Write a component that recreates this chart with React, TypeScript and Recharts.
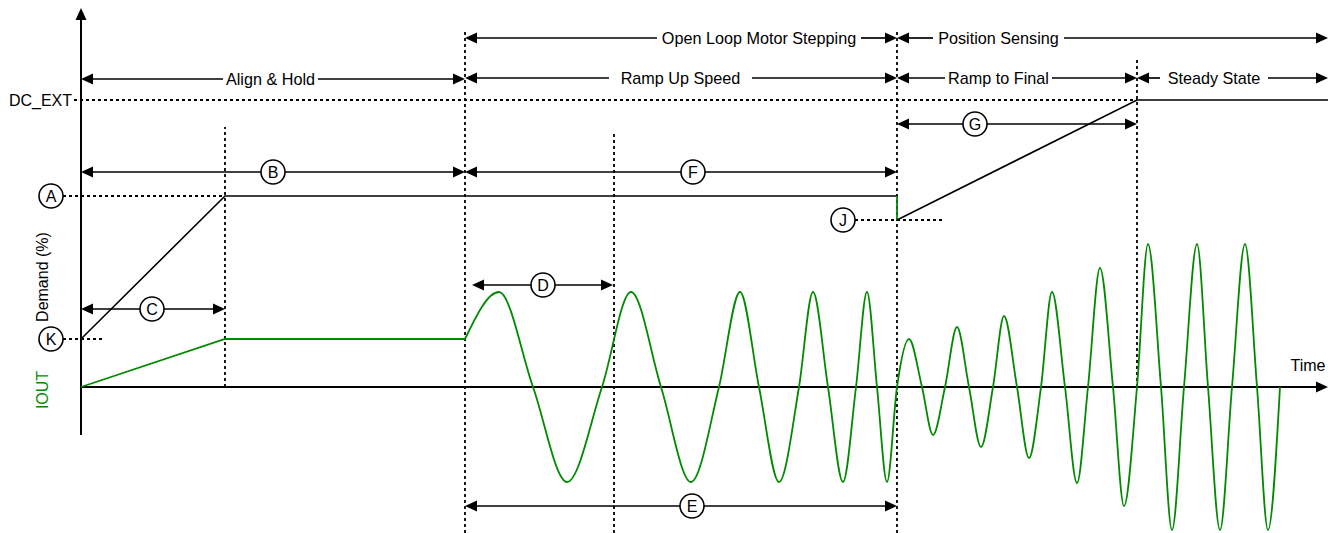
import { ComposedChart, Line, XAxis, YAxis, ReferenceLine, ReferenceDot } from "recharts";

const FONT = "Arial, 'Liberation Sans', Helvetica, sans-serif";
const GREEN = "#008a00";

// time axis runs 0..1247, level axis: 0 = IOUT zero / time axis
const demandAlign = [
  { t: 0, v: 48 },
  { t: 144, v: 191 },
  { t: 816, v: 191 },
];
const demandDrop = [
  { t: 816, v: 191 },
  { t: 816, v: 167 },
];
const demandFinal = [
  { t: 816, v: 167 },
  { t: 1056, v: 287 },
  { t: 1247, v: 287 },
];

const ioutAlign = [
  { t: 0, v: 0 },
  { t: 144, v: 48 },
  { t: 384, v: 48 },
];

// peaks, troughs and zero crossings
const ioutWave = [
  { t: 384, v: 48 }, { t: 418, v: 95 }, { t: 452, v: 0 }, { t: 486, v: -95 },
  { t: 521, v: 0 }, { t: 550, v: 95 }, { t: 580, v: 0 }, { t: 610, v: -95 },
  { t: 638, v: 0 }, { t: 659, v: 95 }, { t: 678, v: 0 }, { t: 698, v: -95 },
  { t: 718, v: 0 }, { t: 732, v: 95 }, { t: 747, v: 0 }, { t: 762, v: -95 },
  { t: 775, v: 0 }, { t: 786, v: 95 }, { t: 796, v: 0 }, { t: 806, v: -95 },
  { t: 816, v: 0 }, { t: 828, v: 48 }, { t: 841, v: 0 }, { t: 852, v: -48 },
  { t: 864, v: 0 }, { t: 876, v: 60 }, { t: 888, v: 0 }, { t: 900, v: -60 },
  { t: 912, v: 0 }, { t: 923, v: 71 }, { t: 936, v: 0 }, { t: 948, v: -71 },
  { t: 960, v: 0 }, { t: 971, v: 95 }, { t: 984, v: 0 }, { t: 996, v: -96 },
  { t: 1007, v: 0 }, { t: 1019, v: 119 }, { t: 1032, v: 0 }, { t: 1043, v: -119 },
  { t: 1056, v: 0 }, { t: 1067, v: 143 }, { t: 1080, v: 0 }, { t: 1091, v: -143 },
  { t: 1103, v: 0 }, { t: 1116, v: 143 }, { t: 1127, v: 0 }, { t: 1139, v: -143 },
  { t: 1151, v: 0 }, { t: 1164, v: 143 }, { t: 1176, v: 0 }, { t: 1187, v: -143 },
  { t: 1199, v: 0 },
];

type Span = { label: string; from: number; to: number; v: number; gap?: number[]; at?: number };

const phaseSpans: Span[] = [
  { label: "Align & Hold", from: 0, to: 384, v: 308, gap: [142, 237] },
  { label: "Ramp Up Speed", from: 384, to: 816, v: 309, gap: [528, 671] },
  { label: "Open Loop Motor Stepping", from: 384, to: 816, v: 349, gap: [576, 780] },
  { label: "Position Sensing", from: 816, to: 1247, v: 349, gap: [852, 983] },
  { label: "Ramp to Final", from: 816, to: 1056, v: 309, gap: [864, 971] },
  { label: "Steady State", from: 1056, to: 1247, v: 309, gap: [1079, 1187] },
];

const markerSpans: Span[] = [
  { label: "B", from: 0, to: 384, v: 215, at: 192 },
  { label: "F", from: 384, to: 816, v: 215, at: 612 },
  { label: "G", from: 816, to: 1056, v: 263, at: 894 },
  { label: "C", from: 0, to: 144, v: 78, at: 71 },
  { label: "D", from: 391, to: 532, v: 102, at: 462 },
  { label: "E", from: 384, to: 816, v: -119, at: 611 },
];

const markerDots = [
  { label: "A", t: -30, v: 191 },
  { label: "K", t: -30, v: 48 },
  { label: "J", t: 762, v: 167 },
];

const guides = [
  { t1: -7, v1: 287, t2: 1056, v2: 287 },
  { t1: -18, v1: 191, t2: 144, v2: 191 },
  { t1: -18, v1: 48, t2: 24, v2: 48 },
  { t1: 774, v1: 167, t2: 862, v2: 167 },
  { t1: 144, v1: 0, t2: 144, v2: 260 },
  { t1: 384, v1: -146, t2: 384, v2: 358 },
  { t1: 533, v1: -146, t2: 533, v2: 254 },
  { t1: 816, v1: -146, t2: 816, v2: 358 },
  { t1: 1056, v1: 0, t2: 1056, v2: 329 },
];

const HL = 12;
const HW = 5.5;

const head = (x: number, y: number, dir: number, key: string) => (
  <polygon key={key} points={`${x},${y} ${x - dir * HL},${y - HW} ${x - dir * HL},${y + HW}`} fill="#000" />
);

const circleLabel = (cx: number, cy: number, label: string) => (
  <g>
    <circle cx={cx} cy={cy} r={12} fill="#fff" stroke="#000" strokeWidth={1.6} />
    <text x={cx} y={cy + 5.7} textAnchor="middle" fontFamily={FONT} fontSize={16} fill="#000">
      {label}
    </text>
  </g>
);

const spanShape = (s: Span) => (p: any) => {
  const { x1, x2, y1 } = p;
  const sx = (t: number) => x1 + ((t - s.from) / (s.to - s.from)) * (x2 - x1);
  const parts = s.gap ? [[x1 + 4, sx(s.gap[0])], [sx(s.gap[1]), x2 - 4]] : [[x1 + 4, x2 - 4]];
  return (
    <g>
      {parts.map(([a, b], i) => (
        <line key={i} x1={a} x2={b} y1={y1} y2={y1} stroke="#000" strokeWidth={1.7} />
      ))}
      {head(x1, y1, -1, "l")}
      {head(x2, y1, 1, "r")}
      {s.gap && (
        <text x={sx((s.gap[0] + s.gap[1]) / 2)} y={y1 + 5.7} textAnchor="middle" fontFamily={FONT} fontSize={16.2} fill="#000">
          {s.label}
        </text>
      )}
      {s.at !== undefined && circleLabel(sx(s.at), y1, s.label)}
    </g>
  );
};

const timeAxisShape = (p: any) => (
  <g>
    <line x1={p.x1} y1={p.y1} x2={p.x2 - 6} y2={p.y2} stroke="#000" strokeWidth={2} />
    {head(p.x2, p.y2, 1, "h")}
  </g>
);

const demandAxisShape = (p: any) => (
  <g>
    <line x1={p.x1} y1={p.y1} x2={p.x2} y2={p.y2 + 6} stroke="#000" strokeWidth={2} />
    <polygon points={`${p.x2},${p.y2} ${p.x2 - HW},${p.y2 + HL} ${p.x2 + HW},${p.y2 + HL}`} fill="#000" />
  </g>
);

const textDot = (label: string, opts: { anchor?: string; rotate?: boolean; color?: string }) => (p: any) => {
  const { cx, cy } = p;
  return (
    <text
      x={cx}
      y={cy + 5.7}
      textAnchor={opts.anchor || "middle"}
      transform={opts.rotate ? `rotate(-90 ${cx} ${cy})` : undefined}
      fontFamily={FONT}
      fontSize={16}
      fill={opts.color || "#000"}
    >
      {label}
    </text>
  );
};

export default function App() {
  return (
    <div style={{ position: "absolute", left: 0, top: 0, width: 1330, height: 533, background: "#fff" }}>
      <ComposedChart width={1330} height={533} margin={{ top: 0, right: 0, bottom: 0, left: 0 }}>
        <XAxis type="number" dataKey="t" domain={[-81, 1249]} hide allowDataOverflow />
        <YAxis type="number" dataKey="v" domain={[-146, 387]} hide allowDataOverflow />

        {guides.map((g, i) => (
          <ReferenceLine
            key={`g${i}`}
            segment={[{ x: g.t1, y: g.v1 }, { x: g.t2, y: g.v2 }]}
            stroke="#000"
            strokeWidth={1.8}
            strokeDasharray="3 3"
            ifOverflow="visible"
          />
        ))}

        <ReferenceLine segment={[{ x: 0, y: 0 }, { x: 1247, y: 0 }]} shape={timeAxisShape} ifOverflow="visible" />
        <ReferenceLine segment={[{ x: 0, y: -48 }, { x: 0, y: 379 }]} shape={demandAxisShape} ifOverflow="visible" />

        <Line data={ioutAlign} dataKey="v" type="linear" stroke={GREEN} strokeWidth={1.8} dot={false} activeDot={false} isAnimationActive={false} />
        <Line data={ioutWave} dataKey="v" type="monotone" stroke={GREEN} strokeWidth={1.8} dot={false} activeDot={false} isAnimationActive={false} />
        <Line data={demandAlign} dataKey="v" type="linear" stroke="#000" strokeWidth={1.6} dot={false} activeDot={false} isAnimationActive={false} />
        <Line data={demandDrop} dataKey="v" type="linear" stroke={GREEN} strokeWidth={1.8} dot={false} activeDot={false} isAnimationActive={false} />
        <Line data={demandFinal} dataKey="v" type="linear" stroke="#000" strokeWidth={1.6} dot={false} activeDot={false} isAnimationActive={false} />

        {[...phaseSpans, ...markerSpans].map((s, i) => (
          <ReferenceLine
            key={`s${i}`}
            segment={[{ x: s.from, y: s.v }, { x: s.to, y: s.v }]}
            shape={spanShape(s)}
            ifOverflow="visible"
          />
        ))}

        {markerDots.map((m) => (
          <ReferenceDot key={m.label} x={m.t} y={m.v} ifOverflow="visible" shape={(p: any) => circleLabel(p.cx, p.cy, m.label)} />
        ))}

        <ReferenceDot x={-9} y={287} ifOverflow="visible" shape={textDot("DC_EXT", { anchor: "end" })} />
        <ReferenceDot x={1227} y={22} ifOverflow="visible" shape={textDot("Time", {})} />
        <ReferenceDot x={-39} y={110} ifOverflow="visible" shape={textDot("Demand (%)", { rotate: true })} />
        <ReferenceDot x={-39} y={-3} ifOverflow="visible" shape={textDot("IOUT", { rotate: true, color: GREEN })} />
      </ComposedChart>
    </div>
  );
}
